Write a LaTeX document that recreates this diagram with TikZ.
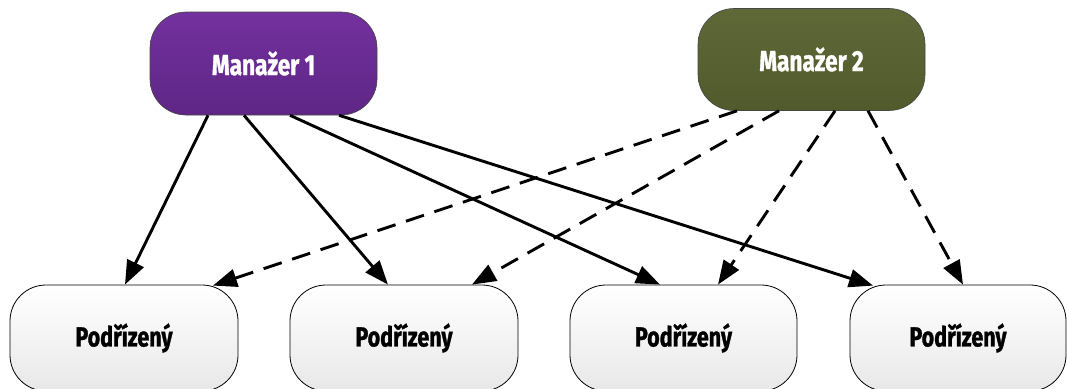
\documentclass[tikz,border=0pt]{standalone}
\usepackage{fontspec}
\setmainfont{Fira Sans}[FakeStretch=0.78, FakeBold=1.2]
\usetikzlibrary{arrows.meta}
\definecolor{mOneTop}{RGB}{115,49,158}
\definecolor{mOneBot}{RGB}{94,38,134}
\definecolor{mTwoTop}{RGB}{95,104,55}
\definecolor{mTwoBot}{RGB}{80,90,44}
\definecolor{subBot}{RGB}{232,232,232}
\definecolor{edgeGray}{RGB}{70,70,70}
\tikzset{
  mgrbox/.style={draw=edgeGray, line width=0.6pt, rounded corners=36pt, inner sep=0pt,
    minimum width=227pt, minimum height=103pt, text=white,
    font=\fontsize{29}{33}\selectfont\bfseries},
  subbox/.style={draw=black, line width=0.8pt, rounded corners=36pt, inner sep=0pt,
    minimum height=106pt, top color=white, bottom color=subBot, text=black,
    font=\fontsize{27.5}{31}\selectfont\bfseries},
  solidarr/.style={line width=2.9pt, -{Triangle[length=24pt,width=18pt]}},
  dasharr/.style={line width=2.9pt, dash pattern=on 19pt off 11pt, -{Triangle[length=24pt,width=18pt]}},
}
\begin{document}
\begin{tikzpicture}[x=1pt,y=-1pt]
\useasboundingbox (0,0) rectangle (1067,388);
\clip (0,0) rectangle (1067,388);
\node[mgrbox, top color=mOneTop, bottom color=mOneBot] (m1) at (263.5,63.5) {Manažer 1};
\node[mgrbox, top color=mTwoTop, bottom color=mTwoBot, minimum height=102pt] (m2) at (811.5,59.5) {Manažer 2};
\node[subbox, minimum width=228pt] (b1) at (124,338) {Podřízený};
\node[subbox, minimum width=228pt] (b2) at (404,338) {Podřízený};
\node[subbox, minimum width=227pt] (b3) at (683.5,338) {Podřízený};
\node[subbox, minimum width=216pt] (b4) at (958,338) {Podřízený};
% Manager 1 (solid)
\draw[solidarr] ([xshift=-55.5pt]m1.south) -- ([xshift=1pt]b1.north);
\draw[solidarr] ([xshift=-19.5pt]m1.south) -- ([xshift=-16pt]b2.north);
\draw[solidarr] ([xshift=26.5pt]m1.south) -- ([xshift=-23.5pt]b3.north);
\draw[solidarr] ([xshift=75.5pt]m1.south) -- ([xshift=-85pt,yshift=-1pt]b4.north);
% Manager 2 (dashed)
\draw[dasharr] ([xshift=-74.5pt]m2.south) -- ([xshift=89pt,yshift=-1pt]b1.north);
\draw[dasharr] ([xshift=-32.5pt]m2.south) -- ([xshift=68pt]b2.north);
\draw[dasharr] ([xshift=23.5pt]m2.south) -- ([xshift=34.5pt]b3.north);
\draw[dasharr] ([xshift=56.5pt]m2.south) -- ([xshift=5pt]b4.north);
\end{tikzpicture}
\end{document}
